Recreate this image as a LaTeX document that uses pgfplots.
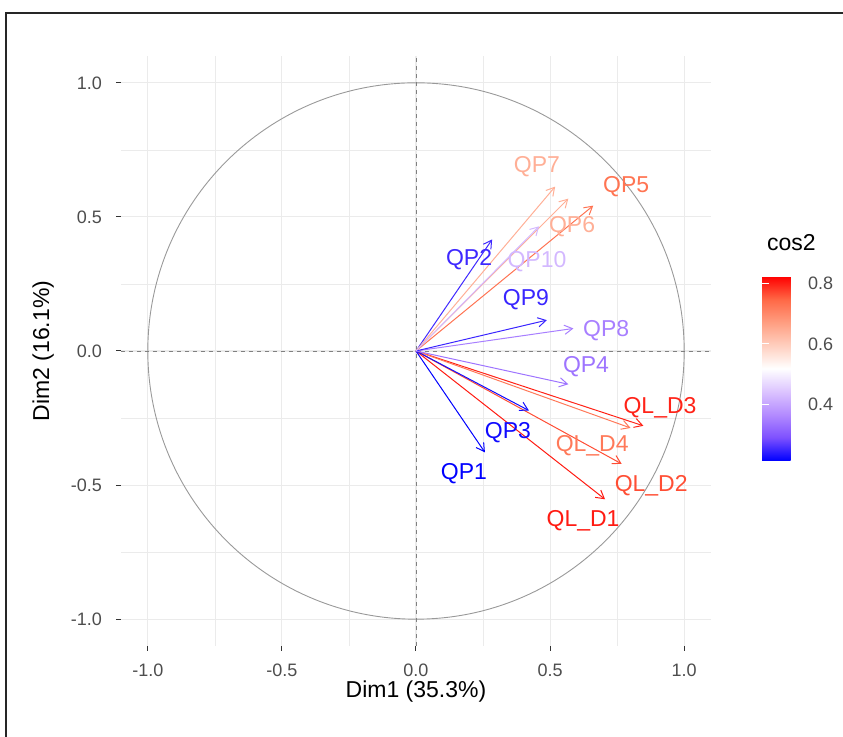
\documentclass[border=0pt]{standalone}
\usepackage{fontspec}
\setmainfont{Liberation Sans}
\usepackage{pgfplots}
\usepackage{pgfplotstable}
\pgfplotsset{compat=1.18}
\usetikzlibrary{arrows.meta}
\definecolor{tickgray}{HTML}{4D4D4D}
\definecolor{gridgray}{HTML}{EBEBEB}
\definecolor{tickdark}{HTML}{333333}

\pgfplotstableread{
name x y cos2 lx ly
QL\_D1 0.705 -0.553 0.803 0.623 -0.632
QL\_D2 0.767 -0.421 0.766 0.877 -0.502
QL\_D3 0.848 -0.279 0.797 0.910 -0.212
QL\_D4 0.800 -0.287 0.722 0.657 -0.353
QP1 0.257 -0.378 0.216 0.179 -0.459
QP2 0.284 0.416 0.254 0.198 0.342
QP3 0.421 -0.222 0.226 0.343 -0.305
QP4 0.568 -0.124 0.338 0.634 -0.059
QP5 0.661 0.542 0.731 0.784 0.613
QP6 0.568 0.568 0.645 0.582 0.465
QP7 0.519 0.613 0.645 0.451 0.688
QP8 0.587 0.084 0.352 0.709 0.074
QP9 0.488 0.115 0.251 0.410 0.190
QP10 0.459 0.465 0.427 0.451 0.335
}\vars

\begin{document}
\begin{tikzpicture}[x=1pt,y=1pt]
\useasboundingbox (0,0) rectangle (421.5,368.5);
\draw[line width=1pt, color=black!85] (3,0) -- (3,362) -- (421.5,362);
\begin{axis}[
  at={(60.5pt,45.5pt)}, anchor=south west,
  scale only axis, width=295pt, height=295pt,
  xmin=-1.1, xmax=1.1, ymin=-1.1, ymax=1.1,
  axis line style={draw=none},
  xtick={-1,-0.5,0,0.5,1}, ytick={-1,-0.5,0,0.5,1},
  xticklabels={-1.0,-0.5,0.0,0.5,1.0},
  yticklabels={-1.0,-0.5,0.0,0.5,1.0},
  minor xtick={-0.75,-0.25,0.25,0.75},
  minor ytick={-0.75,-0.25,0.25,0.75},
  grid=both,
  major grid style={color=gridgray, line width=0.55pt},
  minor grid style={color=gridgray, line width=0.3pt},
  tick pos=left, tick align=outside,
  major tick length=2.5pt, minor tick length=0pt,
  tick style={color=tickdark, line width=0.5pt},
  ticklabel style={font=\fontsize{9}{10}\selectfont, text=tickgray},
  xticklabel style={yshift=-2.8pt},
  yticklabel style={xshift=-3.5pt},
  xlabel={Dim1 (35.3\%)},
  ylabel={Dim2 (16.1\%)},
  label style={font=\fontsize{11.5}{13}\selectfont, text=black},
  xlabel style={at={(axis description cs:0.5,-0.078)}, anchor=center},
  ylabel style={at={(axis description cs:-0.132,0.5)}, anchor=center},
  colormap={cosmap}{rgb255=(0,0,255) rgb255=(126,81,255) rgb255=(179,139,255) rgb255=(220,196,255) rgb255=(255,255,255) rgb255=(255,207,191) rgb255=(255,158,129) rgb255=(255,104,70) rgb255=(255,0,0)},
  point meta min=0.216, point meta max=0.822,
  colorbar,
  colorbar style={
    at={(parent axis.east)}, anchor=west, xshift=17pt, yshift=-8.75pt,
    scale only axis, width=18pt, height=92pt,
    ytick={0.4,0.6,0.8}, yticklabels={0.4,0.6,0.8},
    yticklabel pos=right, ytick pos=both,
    tick align=inside, major tick length=3.5pt,
    tick style={color=white, line width=0.5pt},
    axis line style={draw=none},
    yticklabel style={font=\fontsize{9}{10}\selectfont, text=tickgray, xshift=1.5pt},
    title={cos2},
    title style={at={(0,1)}, anchor=base west, yshift=7pt, xshift=-1pt, font=\fontsize{11.5}{13}\selectfont},
  },
]
\draw[color=black!40, line width=0.45pt] (axis cs:0,0) circle [radius=1];
\draw[color=black!50, line width=0.4pt, dash pattern=on 2pt off 2pt] (axis cs:-1.1,0) -- (axis cs:1.1,0);
\draw[color=black!50, line width=0.4pt, dash pattern=on 2pt off 2pt] (axis cs:0,-1.1) -- (axis cs:0,1.1);
\addplot[quiver={u=\thisrow{x}, v=\thisrow{y}, colored=mapped color,
    every arrow/.append style={-{Straight Barb[length=4pt, width=4.6pt]}, line width=0.5pt}},
    point meta=explicit]
  table[x expr=0, y expr=0, meta=cos2] {\vars};
\addplot[scatter, only marks, mark=*, mark size=0pt,
    scatter/use mapped color={draw=none, fill=none},
    point meta=explicit,
    visualization depends on={value \coordindex\as\idx},
    visualization depends on={\thisrow{cos2}\as\cval},
    nodes near coords={\pgfplotstablegetelem{\idx}{name}\of\vars\pgfplotsretval},
    nodes near coords style={anchor=center, inner sep=0pt, font=\fontsize{11.5}{12}\selectfont,
      /utils/exec={\pgfmathtruncatemacro\cmv{(\cval-0.216)/0.606*1000}\pgfplotscolormapdefinemappedcolor{\cmv}},
      text=mapped color}]
  table[x=lx, y=ly, meta=cos2] {\vars};
\end{axis}
\end{tikzpicture}
\end{document}
